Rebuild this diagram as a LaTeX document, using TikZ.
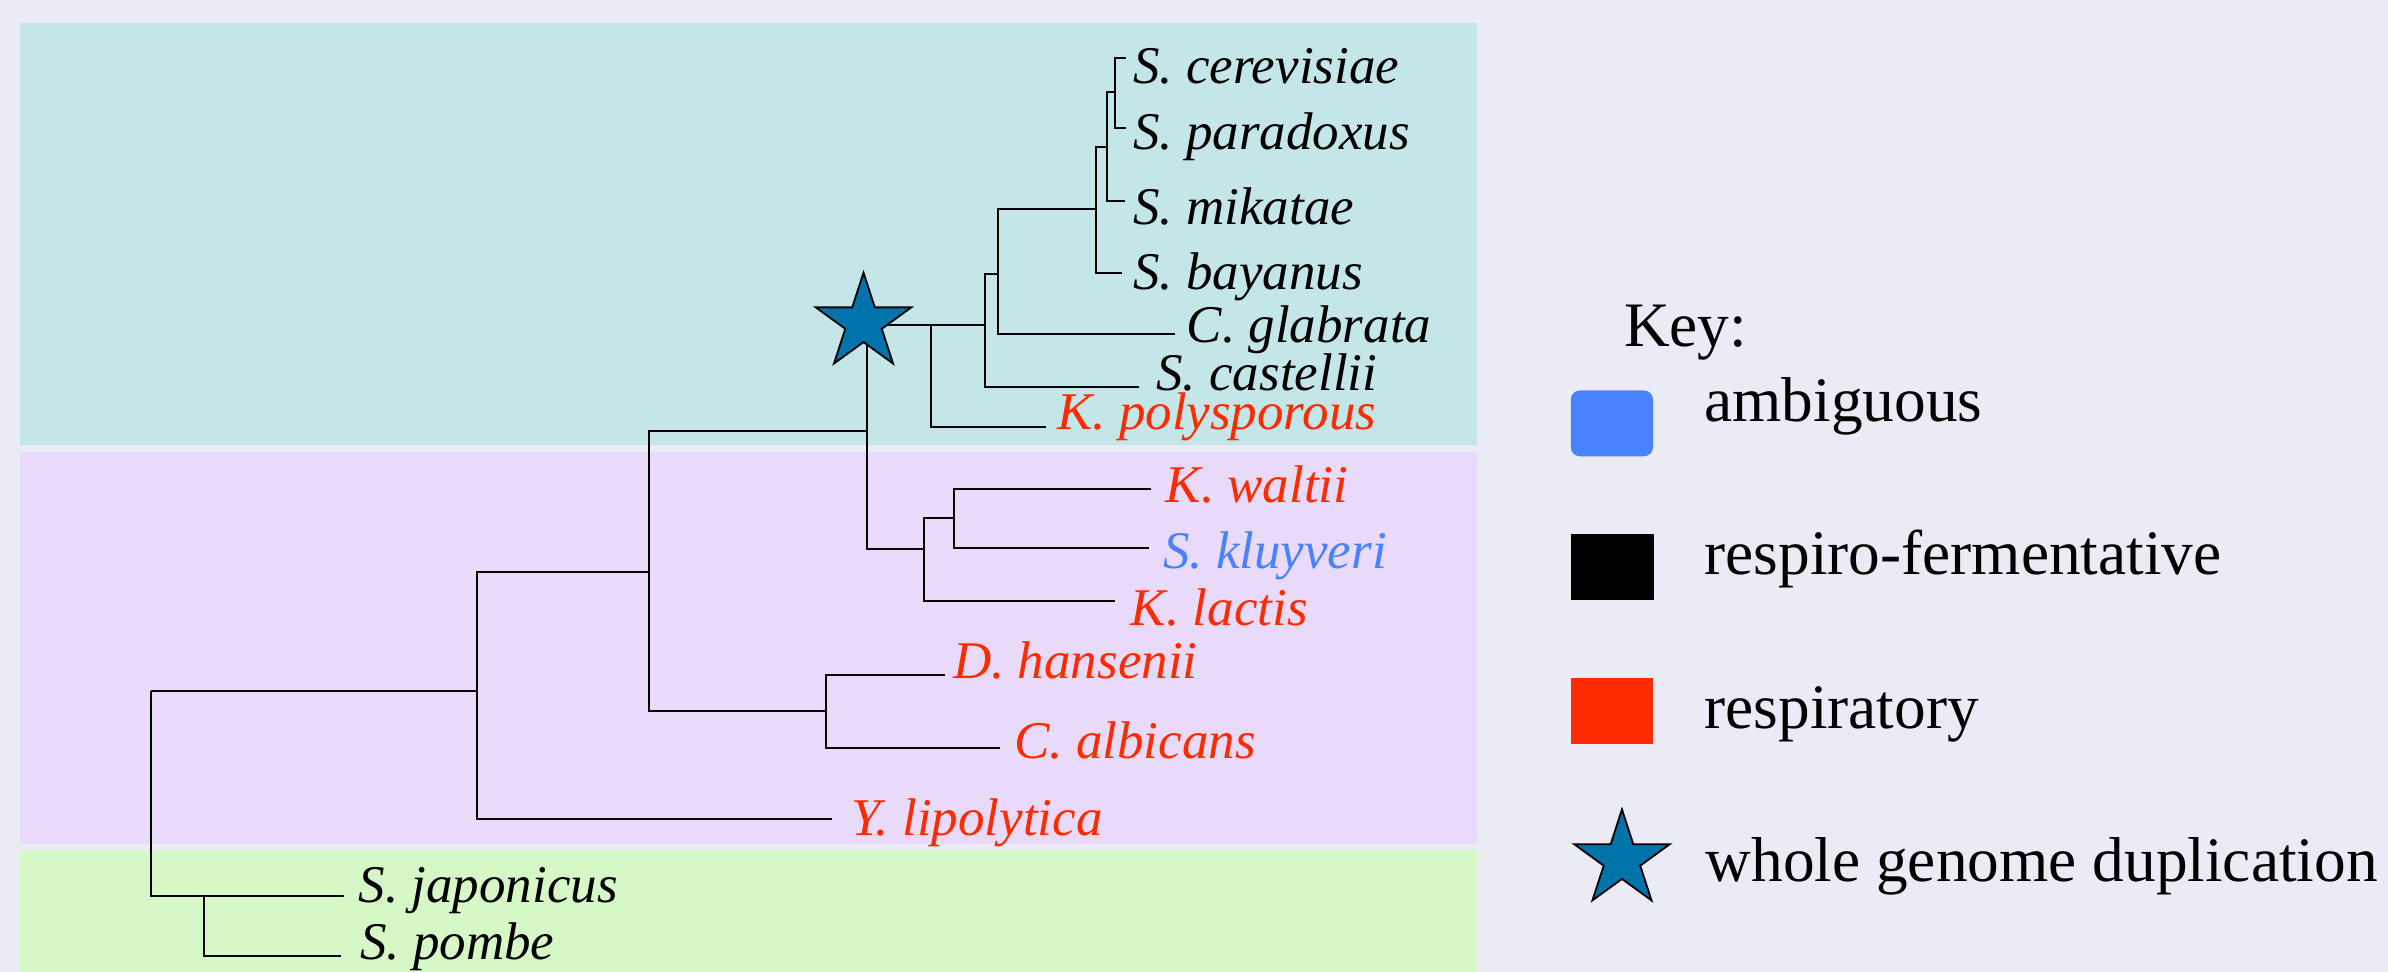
\documentclass[tikz,border=0pt]{standalone}
\usepackage{fontspec}
\setmainfont{Liberation Serif}
\usetikzlibrary{shapes.geometric}
\definecolor{bgcol}{RGB}{235,235,246}
\definecolor{tealband}{RGB}{197,230,232}
\definecolor{purpleband}{RGB}{232,218,248}
\definecolor{greenband}{RGB}{214,247,198}
\definecolor{respred}{RGB}{255,42,0}
\definecolor{ambblue}{RGB}{72,130,255}
\definecolor{starblue}{RGB}{0,115,170}
\begin{document}
\begin{tikzpicture}[x=0.5pt,y=-0.5pt,
  branch/.style={line width=0.65pt, black},
  sp/.style={anchor=base west, inner sep=0pt, font=\fontsize{17.4}{20}\selectfont\itshape},
  resp/.style={text=respred},
  amb/.style={text=ambblue},
  keytext/.style={anchor=base west, inner sep=0pt, font=\fontsize{20.8}{24}\selectfont},
  keybox/.style={minimum width=27pt, minimum height=21.6pt, inner sep=0pt},
  wgd/.style={star, star points=5, star point ratio=2.618, minimum size=33pt, inner sep=0pt, fill=starblue, draw=black, line width=0.6pt}
]
% background and bands
\path[fill=bgcol] (0,0) rectangle (1568,638);
\useasboundingbox (0,0) rectangle (1568,638);
\fill[tealband] (13,15) rectangle (970,292.5);
\fill[purpleband] (13,297) rectangle (970,554);
\fill[greenband] (13,558) rectangle (970,638);

% internal nodes
\coordinate (R) at (99,454);
\coordinate (A) at (134,588.6);
\coordinate (B) at (313,454);
\coordinate (C) at (426,375.7);
\coordinate (E) at (542.6,466.6);
\coordinate (D) at (569.2,283);
\coordinate (F) at (611.2,213.4);
\coordinate (H) at (647,213.4);
\coordinate (I) at (655.2,180.1);
\coordinate (J) at (719.6,137.2);
\coordinate (K) at (726.9,96.3);
\coordinate (L) at (732.2,60.2);
\coordinate (G) at (606.4,360.7);
\coordinate (M) at (626.5,339.9);

% leaf ends
\coordinate (cer) at (739.3,37.9);
\coordinate (par) at (739.3,84.3);
\coordinate (mik) at (738.4,131.8);
\coordinate (bay) at (736.9,179.5);
\coordinate (gla) at (771.5,219.5);
\coordinate (cas) at (748,254.3);
\coordinate (pol) at (686.5,280.2);
\coordinate (wal) at (756,321.2);
\coordinate (klu) at (754.6,359.5);
\coordinate (lac) at (732,394.6);
\coordinate (han) at (620.5,443.2);
\coordinate (alb) at (656.6,491);
\coordinate (lip) at (546,537.6);
\coordinate (jap) at (226,588.6);
\coordinate (pom) at (223.6,627.8);

% branches
\draw[branch] (R) |- (B);
\draw[branch] (R) |- (A);
\draw[branch] (A) -- (jap);
\draw[branch] (A) |- (pom);
\draw[branch] (B) |- (C);
\draw[branch] (B) |- (lip);
\draw[branch] (C) |- (D);
\draw[branch] (C) |- (E);
\draw[branch] (E) |- (han);
\draw[branch] (E) |- (alb);
\draw[branch] (D) |- (F);
\draw[branch] (D) |- (G);
\draw[branch] (F) -- (H);
\draw[branch] (F) |- (pol);
\draw[branch] (H) |- (I);
\draw[branch] (H) |- (cas);
\draw[branch] (I) |- (J);
\draw[branch] (I) |- (gla);
\draw[branch] (J) |- (K);
\draw[branch] (J) |- (bay);
\draw[branch] (K) |- (L);
\draw[branch] (K) |- (mik);
\draw[branch] (L) |- (cer);
\draw[branch] (L) |- (par);
\draw[branch] (G) |- (M);
\draw[branch] (G) |- (lac);
\draw[branch] (M) |- (wal);
\draw[branch] (M) |- (klu);

% whole genome duplication star
\node[wgd] (star) at (567,212) {};

% species labels
\node[sp] (tcer) at (743.7,54.7) {S. cerevisiae};
\node[sp] (tpar) at (743.7,98) {S. paradoxus};
\node[sp] (tmik) at (743.7,147.7) {S. mikatae};
\node[sp] (tbay) at (743.7,190.4) {S. bayanus};
\node[sp] (tgla) at (778.9,224.8) {C. glabrata};
\node[sp] (tcas) at (758.9,256.7) {S. castellii};
\node[sp,resp] (tpol) at (693.8,282.3) {K. polysporous};
\node[sp,resp] (twal) at (765,330) {K. waltii};
\node[sp,amb] (tklu) at (763.3,373.2) {S. kluyveri};
\node[sp,resp] (tlac) at (742.2,410.4) {K. lactis};
\node[sp,resp] (than) at (625.5,445.6) {D. hansenii};
\node[sp,resp] (talb) at (665.6,498.2) {C. albicans};
\node[sp,resp] (tlip) at (558.6,548.4) {Y. lipolytica};
\node[sp] (tjap) at (235.1,592.6) {S. japonicus};
\node[sp] (tpom) at (236.1,629.7) {S. pombe};

% key
\node[keytext] (keyt) at (1066,227.2) {Key:};
\node[keybox, fill=ambblue, rounded corners=3pt] (kamb) at (1058.4,278) {};
\node[keytext] (tamb) at (1118.8,277) {ambiguous};
\node[keybox, fill=black] (kfer) at (1058.7,372.5) {};
\node[keytext] (tfer) at (1118.8,377.3) {respiro-fermentative};
\node[keybox, fill=respred] (kres) at (1058.4,467.1) {};
\node[keytext] (tres) at (1118.8,478.4) {respiratory};
\node[wgd] (kwgd) at (1065,564.5) {};
\node[keytext] (twgd) at (1119.5,579) {whole genome duplication};
\end{tikzpicture}
\end{document}
